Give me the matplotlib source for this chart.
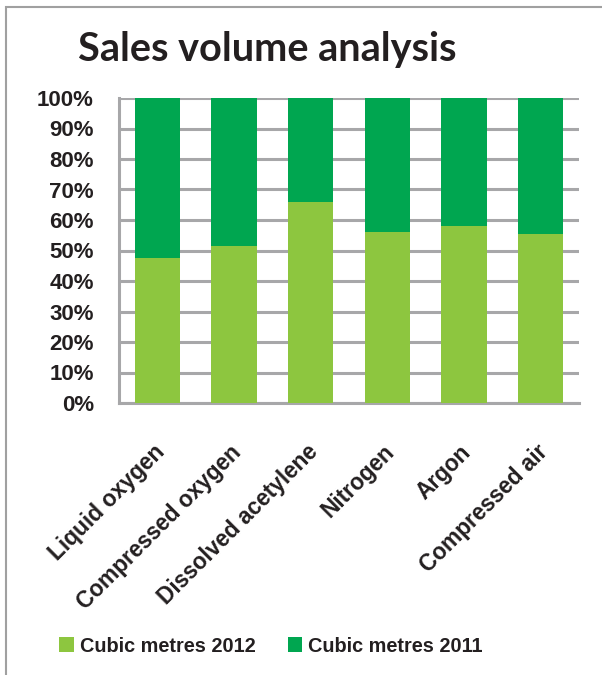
import matplotlib.pyplot as plt
import matplotlib.patches as mpatches
import numpy as np

categories = ["Liquid oxygen", "Compressed oxygen", "Dissolved acetylene",
              "Nitrogen", "Argon", "Compressed air"]
share_2012 = [47.6, 51.6, 65.9, 56.1, 58.0, 55.4]
share_2011 = [100 - v for v in share_2012]

light_green = '#8dc63f'
dark_green = '#00a650'
grid_grey = '#a7a7a9'
ink = '#231f20'

fig = plt.figure(figsize=(6.02, 6.75), dpi=100)
ax = fig.add_axes([119/602, 1 - 403/675, 460/602, 305/675])

x = np.arange(len(categories))
ax.bar(x, share_2012, 0.59, color=light_green, label='Cubic metres 2012', zorder=3)
ax.bar(x, share_2011, 0.59, bottom=share_2012, color=dark_green,
       label='Cubic metres 2011', zorder=3)

ax.set_xlim(-0.5, len(categories) - 0.5)
ax.set_ylim(0, 100)
ax.set_yticks(np.arange(0, 101, 10))
ax.set_yticklabels([f"{v}%" for v in range(0, 101, 10)],
                   fontfamily='Liberation Sans', fontweight='bold', fontsize=16, color=ink)
# labels hang from just right of each bar centre
ax.set_xticks(x - 0.06)
ax.set_xticklabels(categories, rotation=45, ha='right', rotation_mode='anchor',
                   fontfamily='Liberation Sans', fontweight='bold', fontsize=16.3, color=ink)
ax.tick_params(length=0)
ax.tick_params(axis='y', pad=18)
ax.tick_params(axis='x', pad=27)

ax.grid(axis='y', color=grid_grey, linewidth=2.2, zorder=1)
for s in ['top', 'right']:
    ax.spines[s].set_visible(False)
for s in ['left', 'bottom']:
    ax.spines[s].set_color(grid_grey)
    ax.spines[s].set_linewidth(2.2)

fig.text(267/602, 1 - 50/675, 'Sales volume analysis', ha='center', va='center',
         fontfamily='Lato', fontweight='bold', fontsize=28.5, color=ink)

# outer frame
fig.patches.append(mpatches.Rectangle((6/602, -0.05), 1.1, 1 - 7/675 + 0.05,
                                      transform=fig.transFigure, fill=False,
                                      edgecolor='#a0a0a0', linewidth=1.5))

leg = fig.legend(loc='center', bbox_to_anchor=(271/602, 1 - 646/675), ncol=2,
                 frameon=False, handlelength=0.75, handleheight=0.75, handletextpad=0.3,
                 columnspacing=1.6,
                 prop={'family': 'Liberation Sans', 'weight': 'bold', 'size': 14.3})
for t in leg.get_texts():
    t.set_color(ink)

fig.savefig('out.png', dpi=100)
